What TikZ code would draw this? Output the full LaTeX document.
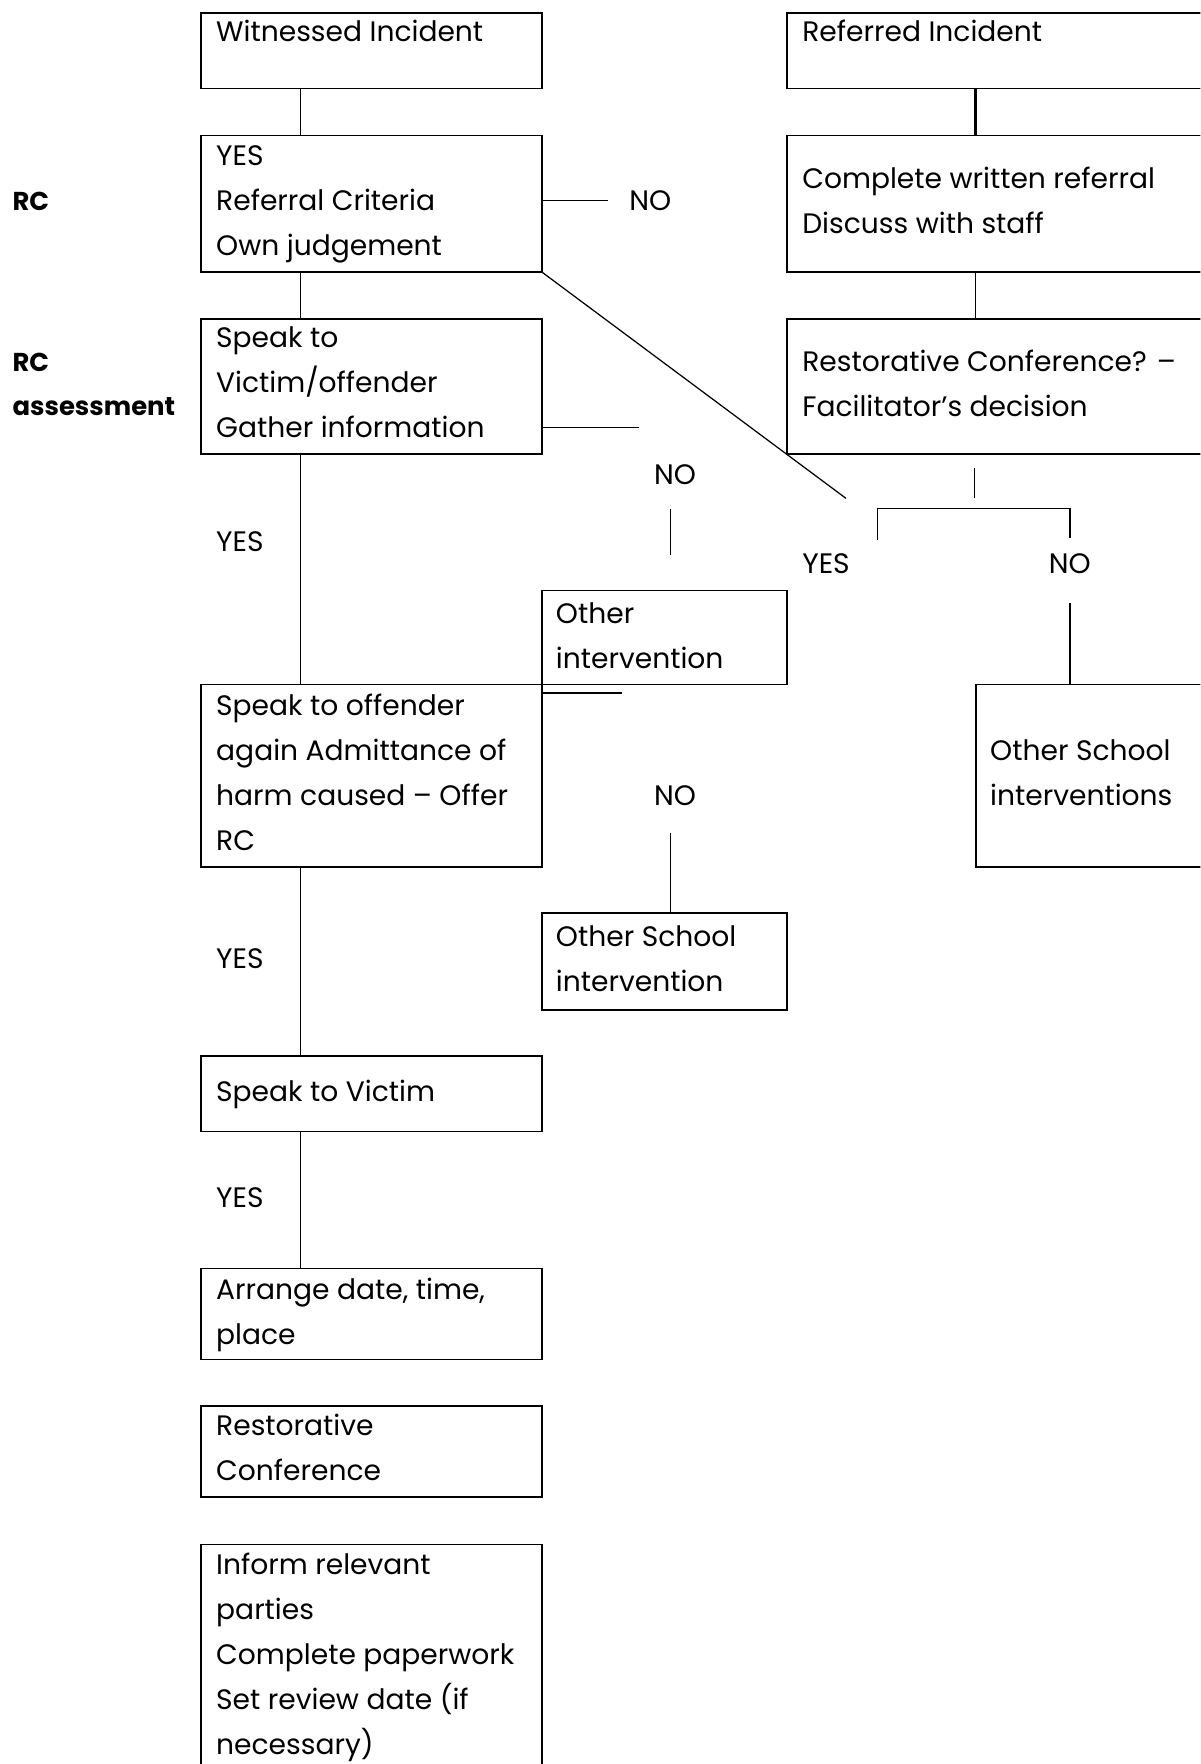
\documentclass[tikz,border=0pt]{standalone}
\usepackage{fontspec}
\setmainfont{Poppins}
\begin{document}
\begin{tikzpicture}[x=1pt,y=-1pt,
  box/.style={draw, line width=1.3pt, rectangle, anchor=north west, inner sep=0pt},
  txt/.style={anchor=north west, inner sep=0pt, align=left, font=\fontsize{25}{40}\selectfont},
  lbl/.style={inner sep=0pt, font=\fontsize{25}{40}\selectfont},
  sidelbl/.style={inner sep=0pt, anchor=base west, font=\fontsize{23}{40}\selectfont\bfseries},
  conn/.style={line width=1.1pt},
  thickconn/.style={line width=2.6pt}]
\path[use as bounding box] (0,0) rectangle (1067,1568);
\clip (0,0) rectangle (1067,1568);
\fill[white] (0,0) rectangle (1067,1568);

% boxes
\node[box, minimum width=303, minimum height=67] (wit) at (178,11) {};
\node[box, minimum width=376, minimum height=67] (ref) at (699,11) {};
\node[box, minimum width=303, minimum height=121] (yes) at (178,120) {};
\node[box, minimum width=376, minimum height=121] (comp) at (699,120) {};
\node[box, minimum width=303, minimum height=120] (speak) at (178,283) {};
\node[box, minimum width=376, minimum height=120] (rcq) at (699,283) {};
\node[box, minimum width=218, minimum height=84] (oi) at (481,524) {};
\node[box, minimum width=303, minimum height=162] (offer) at (178,608) {};
\node[box, minimum width=218, minimum height=86] (osi) at (481,811) {};
\node[box, minimum width=208, minimum height=162] (osis) at (867,608) {};
\node[box, minimum width=303, minimum height=67] (victim) at (178,938) {};
\node[box, minimum width=303, minimum height=81] (arr) at (178,1127) {};
\node[box, minimum width=303, minimum height=81] (conf) at (178,1249) {};
\node[box, minimum width=303, minimum height=208] (inf) at (178,1372) {};

% box texts
\node[txt] (witT) at (192,9) {\strut Witnessed Incident};
\node[txt] (refT) at (713,9) {\strut Referred Incident};
\node[txt] (yesT) at (192,119) {\strut YES\\Referral Criteria\\Own judgement};
\node[txt] (compT) at (713,139) {\strut Complete written referral\\Discuss with staff};
\node[txt] (speakT) at (192,281) {\strut Speak to\\Victim/offender\\Gather information};
\node[txt] (rcqT) at (713,302) {\strut Restorative Conference? –\\Facilitator’s decision};
\node[txt] (oiT) at (494,526) {\strut Other\\intervention};
\node[txt] (offerT) at (192,608) {\strut Speak to offender\\again Admittance of\\harm caused – Offer\\RC};
\node[txt] (osiT) at (494,813) {\strut Other School\\intervention};
\node[txt] (victimT) at (192,951) {\strut Speak to Victim};
\node[txt] (arrT) at (192,1127) {\strut Arrange date, time,\\place};
\node[txt] (confT) at (192,1248) {\strut Restorative\\Conference};
\node[txt] (infT) at (192,1371) {\strut Inform relevant\\parties\\Complete paperwork\\Set review date (if\\necessary)};
\node[txt] (osisT) at (880,648) {\strut Other School\\interventions};

% side labels
\node[sidelbl] (rc1) at (11,187) {RC};
\node[sidelbl] (rc2) at (11,330) {RC};
\node[sidelbl] (assess) at (11,369) {assessment};

% YES / NO labels
\node[lbl, anchor=base] (no1) at (578,187) {NO};
\node[lbl, anchor=base] (no2) at (600,431) {NO};
\node[lbl, anchor=base] (no3) at (600,716) {NO};
\node[lbl, anchor=base] (no4) at (951,510) {NO};
\node[lbl, anchor=base west] (yes1) at (192,490) {YES};
\node[lbl, anchor=base west] (yes2) at (192,861) {YES};
\node[lbl, anchor=base west] (yes3) at (192,1073) {YES};
\node[lbl, anchor=base west] (yes4) at (713,510) {YES};

% coordinates
\coordinate (spine) at (267,0);
\coordinate (rspine) at (867,0);
\coordinate (no1end) at (540,178);
\coordinate (diagend) at (752,443);
\coordinate (speakend) at (568,380);
\coordinate (no2a) at (596,452);
\coordinate (no2b) at (596,493);
\coordinate (offerline) at (553,616);
\coordinate (no3a) at (596,740);
\coordinate (stubA) at (866,416);
\coordinate (stubB) at (866,443);
\coordinate (brL) at (780,480);
\coordinate (brR) at (951,478);
\coordinate (brY) at (0,452);
\coordinate (no4a) at (951,536);

% connectors
\draw[conn] (spine |- wit.south) -- (spine |- yes.north);
\draw[conn] (spine |- yes.south) -- (spine |- speak.north);
\draw[conn] (spine |- speak.south) -- (spine |- offer.north);
\draw[conn] (spine |- offer.south) -- (spine |- victim.north);
\draw[conn] (spine |- victim.south) -- (spine |- arr.north);
\draw[thickconn] (rspine |- ref.south) -- (rspine |- comp.north);
\draw[conn] (rspine |- comp.south) -- (rspine |- rcq.north);
\draw[conn] (yes.east |- no1end) -- (no1end);
\draw[conn] (yes.south east) -- (diagend);
\draw[conn] (speak.east |- speakend) -- (speakend);
\draw[conn] (no2a) -- (no2b);
\draw[conn] (offer.east |- offerline) -- (offerline);
\draw[conn] (no3a) -- (no3a |- osi.north);
\draw[conn] (stubA) -- (stubB);
\draw[conn] (brL) -- (brL |- brY) -- (brR |- brY) -- (brR);
\draw[conn] (no4a) -- (no4a |- osis.north);
\end{tikzpicture}
\end{document}
